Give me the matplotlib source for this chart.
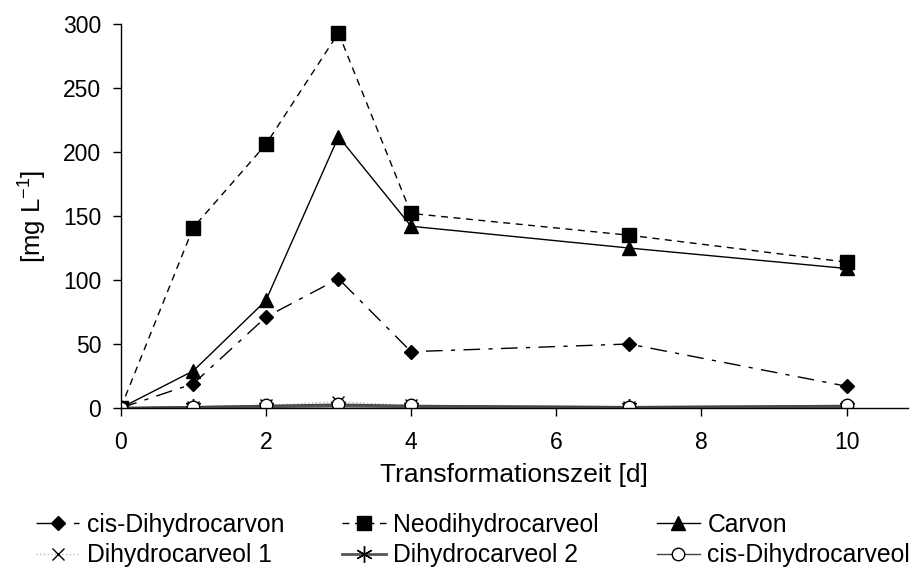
import matplotlib.pyplot as plt

plt.rcParams['font.family'] = ['Liberation Sans', 'DejaVu Sans']
plt.rcParams['mathtext.fontset'] = 'custom'
plt.rcParams['mathtext.rm'] = 'Liberation Sans'

days = [0, 1, 2, 3, 4, 7, 10]
cis_dihydrocarvon = [0, 19, 71, 101, 44, 50, 17]
neodihydrocarveol = [0, 141, 206, 293, 152, 135, 114]
carvon = [0, 29, 84, 212, 142, 125, 109]
dihydrocarveol_1 = [0, 1, 2, 5, 2, 1, 1]
dihydrocarveol_2 = [0, 0.5, 1, 1.5, 1, 0.5, 1]
cis_dihydrocarveol = [0, 1, 2, 3, 2, 1, 2]

fig = plt.figure(figsize=(9.16, 5.68), dpi=100)
ax = fig.add_axes([0.1318, 0.2817, 0.859, 0.676])

tick_fs = 16.5
label_fs = 18.5
legend_fs = 17.8

l1, = ax.plot(days, cis_dihydrocarvon, color='black', lw=1,
              dashes=(12, 6, 3, 6), marker='D', ms=7.5, mfc='black', mec='black')
l2, = ax.plot(days, neodihydrocarveol, color='black', lw=1,
              dashes=(5, 4), marker='s', ms=9.5, mfc='black', mec='black')
l3, = ax.plot(days, carvon, color='black', lw=1, ls='-',
              marker='^', ms=9.5, mfc='black', mec='black')
l4, = ax.plot(days, dihydrocarveol_1, color='#bbbbbb', lw=1, ls=':',
              marker='x', ms=9, mec='black', mew=1)
l5, = ax.plot(days, dihydrocarveol_2, color='#555555', lw=2, ls='-',
              marker=(6, 2, 0), ms=12, mec='black', mew=1)
l6, = ax.plot(days, cis_dihydrocarveol, color='#444444', lw=1, ls='-',
              marker='o', ms=9, mfc='white', mec='black', mew=1)

ax.set_xlim(0, 10.84)
ax.set_ylim(0, 300)
ax.set_xticks([0, 2, 4, 6, 8, 10])
ax.set_yticks([0, 50, 100, 150, 200, 250, 300])
ax.spines['top'].set_visible(False)
ax.spines['right'].set_visible(False)
ax.spines['left'].set_linewidth(1)
ax.spines['bottom'].set_linewidth(1)
ax.tick_params(axis='y', direction='out', length=5.5, width=1, pad=8.5, labelsize=tick_fs)
ax.tick_params(axis='x', direction='out', length=5.5, width=1, pad=11.3, labelsize=tick_fs)
ax.set_xlabel('Transformationszeit [d]', fontsize=19, labelpad=6)
ax.set_ylabel('[mg L$^{\\mathregular{-1}}$]', fontsize=label_fs, labelpad=11)

handles = [l1, l4, l2, l5, l3, l6]
labels = ['cis-Dihydrocarvon', 'Dihydrocarveol 1', 'Neodihydrocarveol',
          'Dihydrocarveol 2', 'Carvon', 'cis-Dihydrocarveol']
fig.legend(handles, labels, loc='upper left', bbox_to_anchor=(36 / 916, 1 - 513 / 568),
           ncol=3, frameon=False, fontsize=legend_fs, borderpad=0, columnspacing=2.35,
           handlelength=1.75, handletextpad=0.3, labelspacing=0.25, borderaxespad=0)

plt.savefig('out.png', dpi=100)
